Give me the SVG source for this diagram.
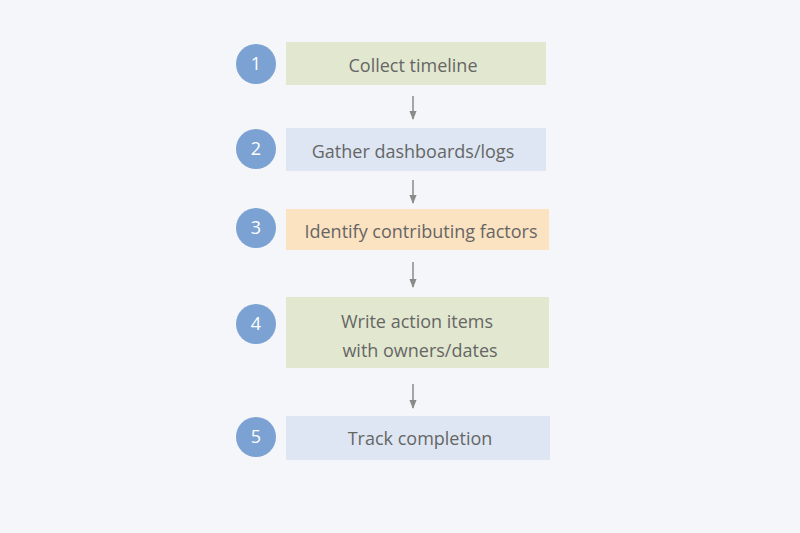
<svg xmlns="http://www.w3.org/2000/svg" width="800" height="533" viewBox="0 0 800 533">
<style>
.c{fill:#7ba2d2}
.n{font-family:"Open Sans","Liberation Sans",sans-serif;font-size:18px;fill:#fff;text-anchor:middle}
.t{font-family:"Open Sans","Liberation Sans",sans-serif;font-size:18px;fill:#666;text-anchor:middle}
.e{stroke:#8a8a8a;stroke-width:1.5;fill:none;marker-end:url(#a)}
</style>
<defs><marker id="a" viewBox="0 0 10 10" refX="9" refY="5" markerWidth="6" markerHeight="6" orient="auto"><path d="M0,1L10,5L0,9z" fill="#8a8a8a"/></marker></defs>
<rect width="800" height="533" fill="#f5f6f9"/>
<g id="connectors">
<path class="e" d="M413,96V119"/>
<path class="e" d="M413,180V203"/>
<path class="e" d="M413,262V287"/>
<path class="e" d="M413,384V408"/>
</g>
<g id="n1"><circle class="c" cx="256" cy="64" r="20"/><text class="n" x="256" y="70">1</text><rect x="286" y="42" width="260" height="43" fill="#e2e8cf"/><text class="t" x="413" y="72">Collect timeline</text></g>
<g id="n2"><circle class="c" cx="256" cy="149" r="20"/><text class="n" x="256" y="155">2</text><rect x="286" y="128" width="260" height="43" fill="#dde6f2"/><text class="t" x="413" y="158">Gather dashboards/logs</text></g>
<g id="n3"><circle class="c" cx="256" cy="228" r="20"/><text class="n" x="256" y="234">3</text><rect x="286" y="209" width="263" height="41" fill="#fbe2c0"/><text class="t" x="421" y="238">Identify contributing factors</text></g>
<g id="n4"><circle class="c" cx="256" cy="324" r="20"/><text class="n" x="256" y="330">4</text><rect x="286" y="297" width="263" height="71" fill="#e2e8cf"/><text class="t" x="417" y="328">Write action items</text><text class="t" x="420" y="357">with owners/dates</text></g>
<g id="n5"><circle class="c" cx="256" cy="437" r="20"/><text class="n" x="256" y="443">5</text><rect x="286" y="416" width="264" height="44" fill="#dde6f2"/><text class="t" x="420" y="445">Track completion</text></g>
</svg>
